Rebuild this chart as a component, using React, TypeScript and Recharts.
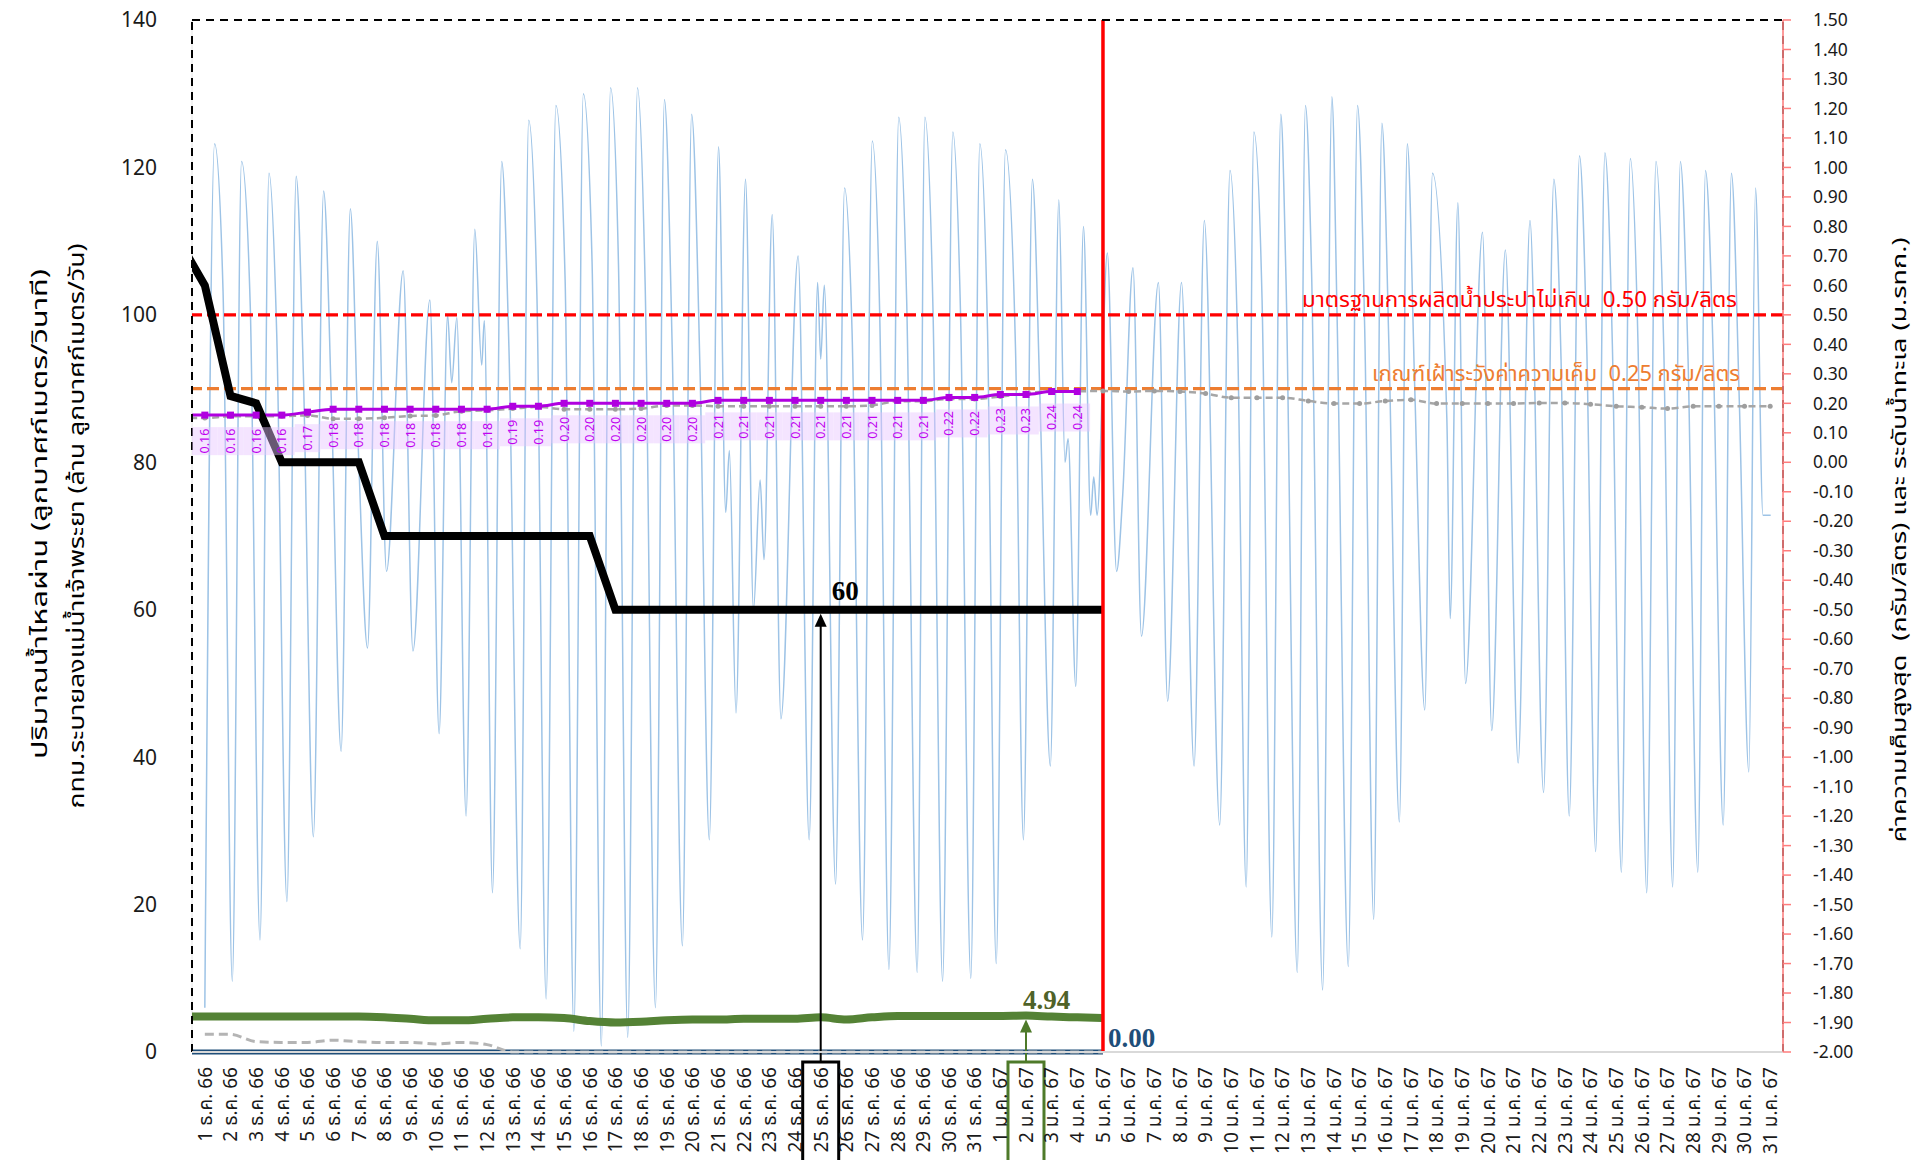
import React from 'react';
import {
  ComposedChart,
  Line,
  XAxis,
  YAxis,
  CartesianGrid,
  ReferenceLine,
  LabelList,
} from 'recharts';

const FONT = "Tahoma, 'Noto Sans Thai', 'Noto Sans', 'DejaVu Sans', sans-serif";
const SERIF = "'Times New Roman', 'Liberation Serif', serif";

// x categories: 1 ธ.ค. 66 ... 31 ม.ค. 67
const decLabels = Array.from({ length: 31 }, (_, i) => `${i + 1} ธ.ค. 66`);
const janLabels = Array.from({ length: 31 }, (_, i) => `${i + 1} ม.ค. 67`);
const dayLabels = [...decLabels, ...janLabels];

const leftTicks = [0, 20, 40, 60, 80, 100, 120, 140];
const rightTicks = Array.from({ length: 36 }, (_, i) => +(-2 + i * 0.1).toFixed(1));

// daily series, first value = 30 พ.ย. 66
const flowRate = [
  110, 104, 89, 88, 80, 80, 80, 80, 70, 70, 70, 70, 70, 70, 70, 70, 70,
  60, 60, 60, 60, 60, 60, 60, 60, 60, 60, 60, 60, 60, 60, 60, 60, 60, 60, 60, 60,
];
const drainage = [
  4.8, 4.8, 4.8, 4.8, 4.8, 4.8, 4.8, 4.8, 4.7, 4.5, 4.3, 4.3, 4.5, 4.7, 4.7, 4.6,
  4.2, 4.0, 4.1, 4.3, 4.4, 4.4, 4.5, 4.5, 4.5, 4.7, 4.4, 4.7, 4.9, 4.9, 4.9, 4.9,
  4.9, 4.94, 4.8, 4.7, 4.6,
];
const drainageOther = [
  0, 0, 0, 0, 0, 0, 0, 0, 0, 0, 0, 0, 0, 0, 0, 0, 0, 0, 0, 0, 0, 0, 0, 0, 0, 0,
  0, 0, 0, 0, 0, 0, 0, 0, 0, 0, 0,
];
const salinityMax = [
  0.16, 0.16, 0.16, 0.16, 0.16, 0.17, 0.18, 0.18, 0.18, 0.18, 0.18, 0.18, 0.18,
  0.19, 0.19, 0.2, 0.2, 0.2, 0.2, 0.2, 0.2, 0.21, 0.21, 0.21, 0.21, 0.21, 0.21,
  0.21, 0.21, 0.21, 0.22, 0.22, 0.23, 0.23, 0.24, 0.24,
];
const salinityLastYear = [
  0.15, 0.15, 0.156, 0.156, 0.156, 0.159, 0.148, 0.148, 0.151, 0.157, 0.159, 0.173,
  0.176, 0.182, 0.188, 0.18, 0.18, 0.18, 0.182, 0.193, 0.193, 0.19, 0.19, 0.19,
  0.19, 0.19, 0.19, 0.193, 0.207, 0.207, 0.215, 0.215, 0.223, 0.234, 0.241, 0.241,
  0.242, 0.24, 0.242, 0.24, 0.233, 0.219, 0.219, 0.219, 0.208, 0.199, 0.199, 0.208,
  0.212, 0.199, 0.199, 0.199, 0.199, 0.201, 0.201, 0.197, 0.19, 0.187, 0.182, 0.19,
  0.19, 0.19, 0.19,
];
// first value = 1 ธ.ค. 66
const drainageLastYear = [
  2.4, 2.4, 1.4, 1.3, 1.3, 1.6, 1.4, 1.3, 1.3, 1.1, 1.3, 1.0, 0, 0, 0, 0, 0, 0,
  0, 0, 0, 0, 0, 0, 0, 0, 0, 0, 0, 0, 0, 0, 0, 0, 0, 0,
];

// ระดับน้ำทะเล: turning points, time in days from 1 ธ.ค. 66 00:00
const tideTime = [
  0.5, 0.88, 1.21, 1.57, 1.93, 2.27, 2.65, 3.0, 3.3, 3.7, 4.06, 4.34, 4.73, 5.13,
  5.45, 5.81, 6.17, 6.5, 6.84, 7.22, 7.58, 8.23, 8.61, 9.27, 9.63, 9.96, 10.12,
  10.32, 10.68, 11.02, 11.29, 11.39, 11.71, 12.07, 12.35, 12.79, 13.12, 13.44,
  13.8, 14.18, 14.54, 14.88, 15.25, 15.59, 15.95, 16.31, 16.62, 16.98, 17.36,
  17.66, 18.06, 18.41, 18.71, 19.11, 19.47, 19.8, 20.16, 20.52, 20.8, 20.94, 21.2,
  21.57, 21.88, 22.14, 22.29, 22.61, 22.95, 23.62, 24.05, 24.38, 24.5, 24.64,
  25.08, 25.43, 25.72, 26.13, 26.51, 26.8, 27.16, 27.54, 27.85, 28.26, 28.56,
  28.88, 29.25, 29.65, 29.95, 30.35, 30.7, 31.0, 31.34, 31.7, 32.09, 32.4, 32.75,
  33.05, 33.45, 33.78, 34.02, 34.14, 34.44, 34.74, 35.02, 35.14, 35.27, 35.67,
  36.03, 36.27, 36.67, 37.0, 37.66, 38.02, 38.56, 39.05, 39.45, 40.05, 40.45,
  40.75, 41.08, 41.38, 41.7, 42.08, 42.43, 42.63, 43.07, 43.39, 43.63, 44.06,
  44.42, 44.62, 45.06, 45.42, 45.7, 46.05, 46.37, 46.65, 47.05, 47.36, 47.65,
  48.04, 48.34, 48.9, 49.03, 49.33, 49.63, 50.29, 50.65, 51.18, 51.68, 52.14,
  52.67, 53.07, 53.35, 53.67, 54.07, 54.35, 54.7, 55.06, 55.35, 55.7, 56.05,
  56.35, 56.69, 57.05, 57.35, 57.7, 58.0, 58.3, 58.68, 58.98, 59.3, 59.67, 59.99,
  60.3, 60.67, 60.93, 61.22, 61.52,
];
const tideLevel = [
  -1.85, 1.08, 0.58, -1.76, 1.02, 0.53, -1.62, 0.98, 0.44, -1.49, 0.97, 0.3, -1.27,
  0.92, 0.15, -0.98, 0.86, 0.0, -0.63, 0.75, -0.37, 0.65, -0.64, 0.55, -0.92, 0.5,
  0.27, 0.49, -1.2, 0.79, 0.33, 0.48, -1.46, 1.02, 0.39, -1.65, 1.16, 0.57, -1.82,
  1.21, 0.62, -1.93, 1.25, 0.68, -1.98, 1.27, 0.67, -1.95, 1.27, 0.6, -1.85, 1.23,
  0.4, -1.64, 1.18, 0.3, -1.28, 1.07, -0.17, 0.04, -0.85, 0.96, -0.5, -0.06, -0.33,
  0.84, -0.87, 0.7, -1.28, 0.61, 0.35, 0.6, -1.43, 0.93, 0.45, -1.62, 1.09, 0.5,
  -1.72, 1.17, 0.55, -1.73, 1.17, 0.5, -1.76, 1.12, 0.5, -1.75, 1.08, 0.45, -1.7,
  1.06, 0.39, -1.28, 0.96, 0.2, -1.03, 0.89, 0.0, 0.08, -0.76, 0.8, -0.18, -0.05,
  -0.18, 0.71, -0.37, -0.11, 0.66, -0.59, 0.61, -0.81, 0.61, -1.03, 0.82, -1.23,
  0.99, 0.4, -1.44, 1.12, 0.55, -1.61, 1.18, 0.63, -1.73, 1.21, 0.64, -1.79, 1.24,
  0.51, -1.71, 1.21, 0.45, -1.55, 1.15, 0.37, -1.22, 1.08, 0.25, -0.84, 0.98, 0.15,
  -0.53, 0.88, -0.75, 0.78, -0.91, 0.72, -1.02, 0.82, -1.12, 0.96, 0.35, -1.2, 1.04,
  0.4, -1.32, 1.05, 0.4, -1.39, 1.03, 0.4, -1.46, 1.02, 0.4, -1.44, 1.02, 0.35,
  -1.39, 0.99, 0.3, -1.23, 0.98, 0.2, -1.05, 0.93, -0.18, -0.18,
];

const LAST_DATA_DAY = 35; // 5 ม.ค. 67
const FLOW_NOTE_DAY = 24; // 25 ธ.ค. 66
const DRAIN_NOTE_DAY = 32; // 2 ม.ค. 67

const toDaily = (vals: number[], firstDay: number) =>
  vals.map((v, i) => ({ t: firstDay + i + 0.5, v }));

const tideData = tideTime.map((t, i) => ({ t, v: tideLevel[i] }));
const flowData = toDaily(flowRate, -1);
const drainData = toDaily(drainage, -1);
const drainOtherData = toDaily(drainageOther, -1);
const drainLastData = toDaily(drainageLastYear, 0);
const salinityData = toDaily(salinityMax, -1);
const salinityLastData = toDaily(salinityLastYear, -1);

const DayTick = (props: any) => {
  const { x, y, payload } = props;
  const label = dayLabels[Math.floor(payload.value)];
  return (
    <text
      x={x}
      y={y}
      transform={`rotate(-90 ${x} ${y})`}
      textAnchor="end"
      dy="0.36em"
      fontSize={19}
      fill="#1a1a1a"
      fontFamily={FONT}
    >
      {label}
    </text>
  );
};

const SquareDot = (props: any) => {
  const { cx, cy, index } = props;
  if (index === 0 || cx == null) return <g key={`sq-${index}`} />;
  return <rect key={`sq-${index}`} x={cx - 3.5} y={cy - 3.5} width={7} height={7} fill="#B000E0" />;
};

const GreyDot = (props: any) => {
  const { cx, cy, index } = props;
  if (index === 0 || cx == null) return <g key={`gd-${index}`} />;
  return <circle key={`gd-${index}`} cx={cx} cy={cy} r={2.5} fill="#9E9E9E" />;
};

const SalinityLabel = (props: any) => {
  const vb = props.viewBox || {};
  const x = props.x ?? vb.x;
  const y = props.y ?? vb.y;
  if (props.index === 0 || x == null) return null;
  const cy = y + 26;
  return (
    <g>
      <rect x={x - 12.8} y={y + 12} width={25.6} height={28} fill="#E7C3FF" fillOpacity={0.45} />
      <text
        x={x}
        y={cy}
        transform={`rotate(-90 ${x} ${cy})`}
        textAnchor="middle"
        dy="0.36em"
        fontSize={12.5}
        fill="#C000F0"
        fontFamily={FONT}
      >
        {Number(props.value).toFixed(2)}
      </text>
    </g>
  );
};

const ZeroLabel = (props: any) => {
  const vb = props.viewBox || {};
  const x = props.x ?? vb.x;
  const y = props.y ?? vb.y;
  if (props.index !== drainageOther.length - 1 || x == null) return null;
  return (
    <text x={x + 5} y={y - 5} fontSize={27} fontWeight="bold" fill="#1F4E79" fontFamily={SERIF}>
      {Number(props.value).toFixed(2)}
    </text>
  );
};

// arrow from a boxed date label up to a series value
const Pointer = (props: any) => {
  const { x1, y1, x2, y2, color, text, textColor, textDx, textDy, lineGap } = props;
  if (x1 == null) return null;
  return (
    <g>
      <rect x={x1 - 18} y={y1 + 10} width={36} height={130} fill="none" stroke={color} strokeWidth={3} />
      <line x1={x1} y1={y1 + 10} x2={x2} y2={y2 + lineGap + 10} stroke={color} strokeWidth={2} />
      <polygon
        points={`${x2},${y2 + lineGap} ${x2 - 6},${y2 + lineGap + 13} ${x2 + 6},${y2 + lineGap + 13}`}
        fill={color}
      />
      <text x={x2 + textDx} y={y2 + textDy} fontSize={27} fontWeight="bold" fill={textColor} fontFamily={SERIF}>
        {text}
      </text>
    </g>
  );
};

const thresholdLabel = (text: string, color: string, inset: number, len: number) => (props: any) => {
  const vb = props.viewBox || {};
  return (
    <text
      x={vb.x + vb.width - inset}
      y={vb.y - 8}
      textAnchor="end"
      fill={color}
      fontSize={21}
      fontFamily={FONT}
      textLength={len}
      lengthAdjust="spacingAndGlyphs"
      style={{ whiteSpace: 'pre' }}
    >
      {text}
    </text>
  );
};

const W = 1904;
const H = 1160;

export default function App() {
  return (
    <div style={{ position: 'relative', width: W, height: H, marginTop: -8, background: '#fff' }}>
      <ComposedChart width={W} height={H} margin={{ top: 20, right: 0, bottom: 0, left: 0 }}>
        <CartesianGrid xAxisId="grid" yAxisId="L" horizontal={false} stroke="#E6E6E6" />
        <XAxis
          xAxisId="grid"
          dataKey="t"
          type="number"
          domain={[0, 62]}
          allowDataOverflow
          ticks={Array.from({ length: 63 }, (_, i) => i)}
          tick={false}
          tickSize={7}
          height={8}
          axisLine={{ stroke: '#D9D9D9', strokeWidth: 2 }}
          tickLine={{ stroke: '#D9D9D9', strokeWidth: 1.5 }}
        />
        <XAxis
          xAxisId="lbl"
          dataKey="t"
          type="number"
          domain={[0, 62]}
          allowDataOverflow
          ticks={dayLabels.map((_, i) => i + 0.5)}
          interval={0}
          tick={<DayTick />}
          tickLine={false}
          axisLine={false}
          tickSize={0}
          tickMargin={7}
          height={100}
        />
        <YAxis
          yAxisId="L"
          domain={[0, 140]}
          ticks={leftTicks}
          interval={0}
          width={184}
          axisLine={false}
          tickLine={false}
          tickSize={0}
          tickMargin={35}
          tick={{ fontSize: 21, fill: '#1a1a1a', fontFamily: FONT }}
        />
        <YAxis
          yAxisId="R"
          orientation="right"
          domain={[-2, 1.5]}
          allowDataOverflow
          ticks={rightTicks}
          interval={0}
          width={129}
          tickFormatter={(v: number) => v.toFixed(2)}
          axisLine={{ stroke: '#FF7C7C', strokeWidth: 1.5 }}
          tickLine={{ stroke: '#FF7C7C', strokeWidth: 1.5 }}
          tickSize={8}
          tickMargin={22}
          tick={{ fontSize: 17.5, fill: '#1a1a1a', fontFamily: FONT }}
        />

        <Line
          xAxisId="grid"
          yAxisId="R"
          data={tideData}
          dataKey="v"
          type="monotone"
          stroke="#9DC3E6"
          strokeWidth={1.5}
          dot={false}
          isAnimationActive={false}
        />

        <ReferenceLine xAxisId="grid" yAxisId="R" y={0.5} stroke="#FF0000" strokeWidth={3.3} strokeDasharray="12 5"
          label={thresholdLabel('มาตรฐานการผลิตน้ำประปาไม่เกิน  0.50 กรัม/ลิตร', '#FF0000', 46, 435)} />
        <ReferenceLine xAxisId="grid" yAxisId="R" y={0.25} stroke="#ED7D31" strokeWidth={3.3} strokeDasharray="12 5"
          label={thresholdLabel('เกณฑ์เฝ้าระวังค่าความเค็ม  0.25 กรัม/ลิตร', '#ED7D31', 43, 368)} />

        <Line
          xAxisId="grid"
          yAxisId="R"
          data={salinityLastData}
          dataKey="v"
          type="monotone"
          stroke="#A6A6A6"
          strokeWidth={2.5}
          strokeDasharray="7 4"
          dot={<GreyDot />}
          isAnimationActive={false}
        />
        <Line
          xAxisId="grid"
          yAxisId="R"
          data={salinityData}
          dataKey="v"
          type="monotone"
          stroke="#B000E0"
          strokeWidth={3}
          dot={<SquareDot />}
          isAnimationActive={false}
        >
          <LabelList dataKey="v" content={SalinityLabel} />
        </Line>

        <Line
          xAxisId="grid"
          yAxisId="L"
          data={flowData}
          dataKey="v"
          type="linear"
          stroke="#000000"
          strokeWidth={8}
          dot={false}
          isAnimationActive={false}
        />
        <Line
          xAxisId="grid"
          yAxisId="L"
          data={drainData}
          dataKey="v"
          type="monotone"
          stroke="#548235"
          strokeWidth={8}
          dot={false}
          isAnimationActive={false}
        />
        <Line
          xAxisId="grid"
          yAxisId="L"
          data={drainOtherData}
          dataKey="v"
          type="linear"
          stroke="#1F4E79"
          strokeWidth={5}
          dot={false}
          isAnimationActive={false}
        >
          <LabelList dataKey="v" content={ZeroLabel} />
        </Line>
        <Line
          xAxisId="grid"
          yAxisId="L"
          data={drainLastData}
          dataKey="v"
          type="monotone"
          stroke="#B4B4B4"
          strokeWidth={3}
          strokeDasharray="9 5"
          dot={false}
          isAnimationActive={false}
        />

        <ReferenceLine xAxisId="grid" yAxisId="L" x={LAST_DATA_DAY + 0.5} stroke="#FF0000" strokeWidth={3.5} />

        <ReferenceLine xAxisId="grid" yAxisId="L" y={140} stroke="#000" strokeWidth={2} strokeDasharray="8 6" />
        <ReferenceLine xAxisId="grid" yAxisId="L" x={0} stroke="#000" strokeWidth={2} strokeDasharray="8 6" />
        <ReferenceLine xAxisId="grid" yAxisId="L" x={62} stroke="#000" strokeWidth={1.5} strokeDasharray="8 6" />

        <ReferenceLine
          xAxisId="grid"
          yAxisId="L"
          ifOverflow="visible"
          segment={[
            { x: FLOW_NOTE_DAY + 0.5, y: 0 },
            { x: FLOW_NOTE_DAY + 0.5, y: flowRate[FLOW_NOTE_DAY + 1] },
          ]}
          shape={(p: any) => (
            <Pointer {...p} color="#000" textColor="#000" text={String(flowRate[FLOW_NOTE_DAY + 1])}
              textDx={11} textDy={-10} lineGap={4} />
          )}
        />
        <ReferenceLine
          xAxisId="grid"
          yAxisId="L"
          ifOverflow="visible"
          segment={[
            { x: DRAIN_NOTE_DAY + 0.5, y: 0 },
            { x: DRAIN_NOTE_DAY + 0.5, y: drainage[DRAIN_NOTE_DAY + 1] },
          ]}
          shape={(p: any) => (
            <Pointer {...p} color="#4E7A2A" textColor="#4F6228" text={drainage[DRAIN_NOTE_DAY + 1].toFixed(2)}
              textDx={-3} textDy={-7} lineGap={4} />
          )}
        />
      </ComposedChart>

      <svg width={1912} height={H} overflow="visible"
        style={{ position: 'absolute', left: 0, top: 0, pointerEvents: 'none', overflow: 'visible' }}>
        <g fontFamily={FONT} fontSize={21} fill="#000">
          <text x={32} y={514} transform="rotate(-90 32 514)" textAnchor="middle" dy="0.35em"
            textLength={490} lengthAdjust="spacingAndGlyphs">
            ปริมาณน้ำไหลผ่าน (ลูกบาศก์เมตร/วินาที)
          </text>
          <text x={69} y={526} transform="rotate(-90 69 526)" textAnchor="middle" dy="0.35em"
            textLength={565} lengthAdjust="spacingAndGlyphs">
            กทม.ระบายลงแม่น้ำเจ้าพระยา (ล้าน ลูกบาศก์เมตร/วัน)
          </text>
          <text x={1892} y={540} transform="rotate(-90 1892 540)" textAnchor="middle" dy="0.3em"
            fontSize={20} textLength={605} lengthAdjust="spacingAndGlyphs" style={{ whiteSpace: 'pre' }}>
            ค่าความเค็มสูงสุด  (กรัม/ลิตร) และ ระดับน้ำทะเล (ม.รทก.)
          </text>
        </g>
      </svg>
    </div>
  );
}
